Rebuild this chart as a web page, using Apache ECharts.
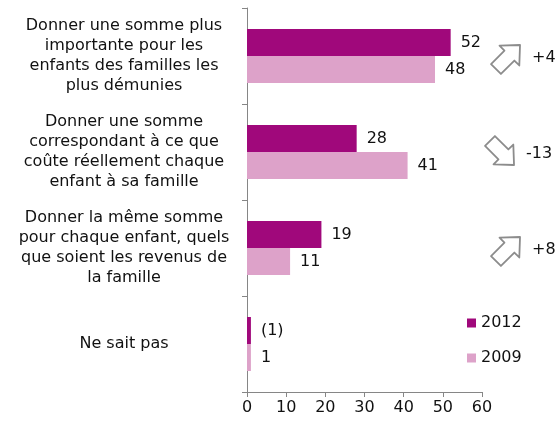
<!DOCTYPE html>
<html>
<head>
<meta charset="utf-8">
<script src="https://cdn.jsdelivr.net/npm/echarts@6/dist/echarts.min.js"></script>
<style>
  html, body { margin: 0; padding: 0; background: #fff; }
  #main { width: 558px; height: 423px; }
</style>
</head>
<body>
<div id="main"></div>
<script>
// categories (top to bottom)
const categories = [
  'Donner une somme plus\nimportante pour les\nenfants des familles les\nplus démunies',
  'Donner une somme\ncorrespondant à ce que\ncoûte réellement chaque\nenfant à sa famille',
  'Donner la même somme\npour chaque enfant, quels\nque soient les revenus de\nla famille',
  'Ne sait pas'
]
const values2012 = [52, 28, 19, 1]
const values2009 = [48, 41, 11, 1]
const labels2012 = ['52', '28', '19', '(1)']
// évolution 2009 -> 2012
const changes = ['+4', '-13', '+8']
const xTicks = [0, 10, 20, 30, 40, 50, 60]

const FONT = 'DejaVu Sans'
const chart = echarts.init(document.getElementById('main'))

chart.setOption({
  animation: false,
  textStyle: { fontFamily: FONT },
  grid: { left: 247, right: 76, top: 8, bottom: 31 },
  legend: {
    orient: 'vertical',
    left: 462,
    top: 310,
    itemWidth: 9,
    itemHeight: 9,
    itemGap: 19,
    icon: 'rect',
    textStyle: { fontSize: 16, color: '#111', fontFamily: FONT },
    data: ['2012', '2009']
  },
  xAxis: {
    type: 'value',
    min: xTicks[0],
    max: xTicks[xTicks.length - 1],
    interval: 10,
    splitLine: { show: false },
    axisLine: { show: true, lineStyle: { color: '#868686' } },
    axisTick: { show: true, length: 5, lineStyle: { color: '#868686' } },
    axisLabel: { fontSize: 16, color: '#111', margin: 8 }
  },
  yAxis: {
    type: 'category',
    inverse: true,
    data: categories,
    axisLine: { show: true, lineStyle: { color: '#868686' } },
    axisTick: { show: true, length: 5, lineStyle: { color: '#868686' } },
    axisLabel: {
      align: 'center',
      margin: 123,
      fontSize: 16,
      lineHeight: 20,
      color: '#111'
    }
  },
  series: [
    {
      name: '2012',
      type: 'bar',
      data: values2012,
      barWidth: 27,
      barGap: '0%',
      itemStyle: { color: '#A0087B' },
      label: {
        show: true,
        position: 'right',
        distance: 10,
        fontSize: 16,
        color: '#111',
        formatter: p => labels2012[p.dataIndex]
      }
    },
    {
      name: '2009',
      type: 'bar',
      data: values2009,
      barWidth: 27,
      itemStyle: { color: '#DDA2C9' },
      label: {
        show: true,
        position: 'right',
        distance: 10,
        fontSize: 16,
        color: '#111'
      }
    }
  ]
})

// flèches d'évolution
const arrowPts = [[-17, -7], [2, -7], [2, -14], [17, 0], [2, 14], [2, 7], [-17, 7]]
const graphics = []
changes.forEach((c, i) => {
  const y = chart.convertToPixel({ yAxisIndex: 0 }, i)
  const up = c.charAt(0) === '+'
  graphics.push({
    type: 'polygon',
    x: up ? 508 : 502,
    y: y + 1,
    rotation: up ? Math.PI / 4 : -Math.PI / 4,
    shape: { points: arrowPts },
    style: { fill: '#fff', stroke: '#8c8c8c', lineWidth: 1.8, lineJoin: 'round' }
  })
  graphics.push({
    type: 'text',
    x: up ? 532 : 526,
    y: y + 2,
    style: { text: c, font: '16px "' + FONT + '"', fill: '#111', verticalAlign: 'middle' }
  })
})
chart.setOption({ graphic: graphics })
</script>
</body>
</html>
